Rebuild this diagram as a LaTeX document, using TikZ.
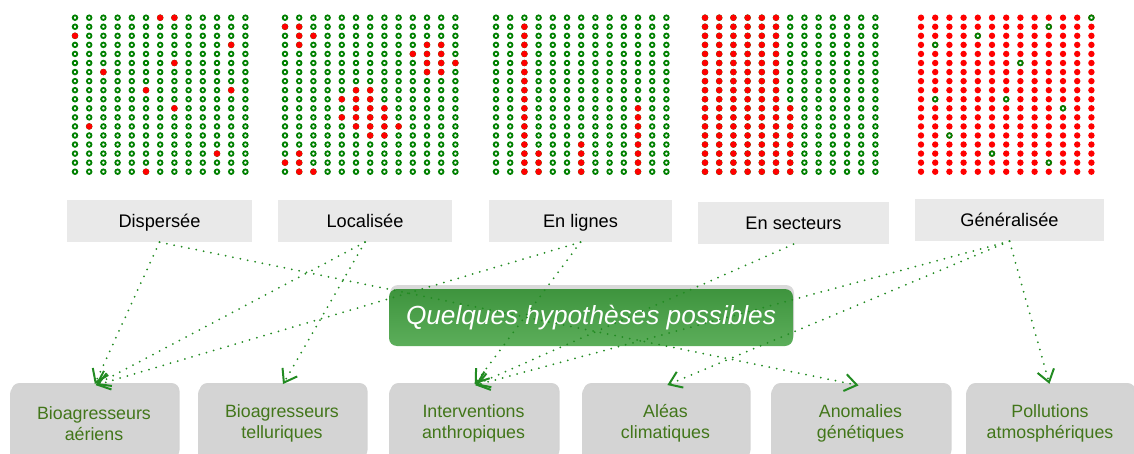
\documentclass[tikz,border=0pt]{standalone}
\usepackage{fontspec}
\setmainfont{Liberation Sans}
\usetikzlibrary{arrows.meta,shadows}

\definecolor{ringgreen}{RGB}{0,128,0}
\definecolor{spotred}{RGB}{255,0,0}
\definecolor{labelgray}{RGB}{233,233,233}
\definecolor{boxgray}{RGB}{212,212,212}
\definecolor{causegreen}{RGB}{66,118,26}
\definecolor{linkgreen}{RGB}{34,139,34}
\definecolor{titletop}{RGB}{62,148,62}
\definecolor{titlebottom}{RGB}{92,174,90}

\def\gdx{14.2}
\def\gdy{9.06}

\tikzset{
  ring/.style={draw=ringgreen,line width=1.8pt,fill=white},
  spot/.style={fill=spotred},
  repart/.style={fill=labelgray,minimum width=#1,minimum height=42pt,inner sep=0pt,
    text height=13pt,text depth=0pt,font=\fontsize{18.2}{22}\selectfont},
  cause/.style={fill=boxgray,rounded corners=8pt,minimum width=#1,minimum height=75pt,
    inner sep=0pt,align=center,text=causegreen,font=\fontsize{17.8}{21.5}\selectfont,
    drop shadow={shadow xshift=1.5pt,shadow yshift=3pt,opacity=0.35}},
  hypo/.style={top color=titletop,bottom color=titlebottom,rounded corners=8pt,
    minimum width=404pt,minimum height=57pt,inner sep=0pt,text=white,
    font=\fontsize{26.2}{30}\selectfont\itshape,
    drop shadow={shadow xshift=1pt,shadow yshift=4pt,opacity=0.3}},
  link/.style={draw=linkgreen,line width=2pt,dash pattern=on 0pt off 7.5pt,line cap=round,
    -{Straight Barb[length=12pt,width=17pt,line width=2pt]},shorten >=2pt},
}

\begin{document}
\begin{tikzpicture}[x=1pt,y=-1pt]
  \clip (0,0) rectangle (1134,454);

  % Dispersee
  \begin{scope}[shift={(75,17.7)}]
    \foreach \i in {0,...,12} \foreach \j in {0,...,17}
      \draw[ring] ({\i*\gdx},{\j*\gdy}) circle (2.3pt);
    \foreach \i/\j in {6/0,7/0,0/2,11/3,7/5,2/6,5/8,11/8,7/10,1/12,10/15,5/17}
      \fill[spot] ({\i*\gdx},{\j*\gdy}) circle (3.2pt);
  \end{scope}

  % Localisee
  \begin{scope}[shift={(285,17.7)}]
    \foreach \i in {0,...,12} \foreach \j in {0,...,17}
      \draw[ring] ({\i*\gdx},{\j*\gdy}) circle (2.3pt);
    \foreach \i/\j in {0/1,1/1,1/2,2/2,1/3,10/3,11/3,9/4,10/4,11/4,10/5,11/5,12/5,10/6,11/6,
        5/8,6/8,4/9,5/9,6/9,5/10,6/10,7/10,4/11,5/11,6/11,7/11,5/12,6/12,7/12,8/12,6/13,7/13,
        1/15,0/16,1/16,1/17,2/17}
      \fill[spot] ({\i*\gdx},{\j*\gdy}) circle (3.2pt);
  \end{scope}

  % En lignes
  \begin{scope}[shift={(496,17.7)}]
    \foreach \i in {0,...,12} \foreach \j in {0,...,17}
      \draw[ring] ({\i*\gdx},{\j*\gdy}) circle (2.3pt);
    \foreach \j in {1,...,17} \fill[spot] ({2*\gdx},{\j*\gdy}) circle (3.2pt);
    \foreach \j in {15,...,17} \fill[spot] ({3*\gdx},{\j*\gdy}) circle (3.2pt);
    \foreach \j in {14,...,17} \fill[spot] ({6*\gdx},{\j*\gdy}) circle (3.2pt);
    \foreach \j in {10,...,17} \fill[spot] ({10*\gdx},{\j*\gdy}) circle (3.2pt);
  \end{scope}

  % En secteurs
  \begin{scope}[shift={(705,17.7)}]
    \foreach \i in {0,...,12} \foreach \j in {0,...,17}
      \draw[ring] ({\i*\gdx},{\j*\gdy}) circle (2.3pt);
    \foreach \i in {0,...,5} \foreach \j in {0,...,17}
      \fill[spot] ({\i*\gdx},{\j*\gdy}) circle (3.2pt);
    \foreach \j in {10,...,17} \fill[spot] ({6*\gdx},{\j*\gdy}) circle (3.2pt);
  \end{scope}

  % Generalisee
  \begin{scope}[shift={(921,17.7)}]
    \foreach \i in {0,...,12} \foreach \j in {0,...,17}
      \fill[spot] ({\i*\gdx},{\j*\gdy}) circle (3.2pt);
    \foreach \i/\j in {12/0,9/1,4/2,1/3,7/5,1/9,6/9,10/10,2/13,5/15,9/16}
      \draw[ring] ({\i*\gdx},{\j*\gdy}) circle (2.3pt);
  \end{scope}

  % Types de repartition
  \node[repart=185pt] (disp) at (159.5,221) {Dispersée};
  \node[repart=174pt] (loc) at (365,221) {Localisée};
  \node[repart=183pt] (lig) at (580.5,221) {En lignes};
  \node[repart=191pt] (sect) at (793.5,223) {En secteurs};
  \node[repart=189pt] (gen) at (1009.5,220) {Généralisée};

  % Hypotheses
  \node[hypo] (hyp) at (591,317.5) {Quelques hypothèses possibles};
  \node[cause=168pt] (aer) at (94,423.5) {Bioagresseurs\\aériens};
  \node[cause=168pt] (tell) at (282,423.5) {Bioagresseurs\\telluriques};
  \node[cause=169pt] (anth) at (473.5,423.5) {Interventions\\anthropiques};
  \node[cause=167pt] (alea) at (665.5,423.5) {Aléas\\climatiques};
  \node[cause=179pt] (anom) at (860.5,423.5) {Anomalies\\génétiques};
  \node[cause=168pt] (poll) at (1050,423.5) {Pollutions\\atmosphériques};

  % Liens
  \draw[link] (disp.south) -- (aer.north);
  \draw[link] (disp.south) -- (anom.north);
  \draw[link] (loc.south) -- (aer.north);
  \draw[link] (loc.south) -- (tell.north);
  \draw[link] (lig.south) -- (aer.north);
  \draw[link] (lig.south) -- (anth.north);
  \draw[link] (sect.south) -- (anth.north);
  \draw[link] (gen.south) -- (anth.north);
  \draw[link] (gen.south) -- (alea.north);
  \draw[link] (gen.south) -- (poll.north);
\end{tikzpicture}
\end{document}
